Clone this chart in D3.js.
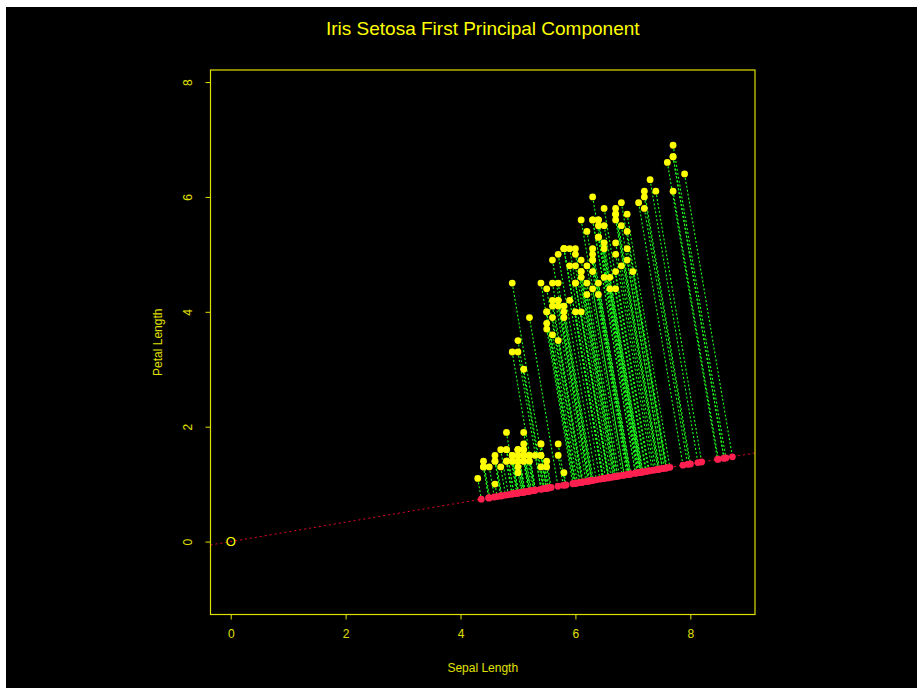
<!DOCTYPE html>
<html>
<head>
<meta charset="utf-8">
<script src="https://cdn.jsdelivr.net/npm/d3@7"></script>
<style>
    body { margin: 0; background: #ffffff; }
    text { font-family: "Liberation Sans", Arial, sans-serif; }
</style>
</head>
<body>
<script>
// iris: sepal length / petal length, all 150 flowers
var sepalLength = [
    5.1, 4.9, 4.7, 4.6, 5.0, 5.4, 4.6, 5.0, 4.4, 4.9, 5.4, 4.8, 4.8, 4.3, 5.8, 5.7, 5.4, 5.1, 5.7, 5.1,
    5.4, 5.1, 4.6, 5.1, 4.8, 5.0, 5.0, 5.2, 5.2, 4.7, 4.8, 5.4, 5.2, 5.5, 4.9, 5.0, 5.5, 4.9, 4.4, 5.1,
    5.0, 4.5, 4.4, 5.0, 5.1, 4.8, 5.1, 4.6, 5.3, 5.0,
    7.0, 6.4, 6.9, 5.5, 6.5, 5.7, 6.3, 4.9, 6.6, 5.2, 5.0, 5.9, 6.0, 6.1, 5.6, 6.7, 5.6, 5.8, 6.2, 5.6,
    5.9, 6.1, 6.3, 6.1, 6.4, 6.6, 6.8, 6.7, 6.0, 5.7, 5.5, 5.5, 5.8, 6.0, 5.4, 6.0, 6.7, 6.3, 5.6, 5.5,
    5.5, 6.1, 5.8, 5.0, 5.6, 5.7, 5.7, 6.2, 5.1, 5.7,
    6.3, 5.8, 7.1, 6.3, 6.5, 7.6, 4.9, 7.3, 6.7, 7.2, 6.5, 6.4, 6.8, 5.7, 5.8, 6.4, 6.5, 7.7, 7.7, 6.0,
    6.9, 5.6, 7.7, 6.3, 6.7, 7.2, 6.2, 6.1, 6.4, 7.2, 7.4, 7.9, 6.4, 6.3, 6.1, 7.7, 6.3, 6.4, 6.0, 6.9,
    6.7, 6.9, 5.8, 6.8, 6.7, 6.7, 6.3, 6.5, 6.2, 5.9
];
var petalLength = [
    1.4, 1.4, 1.3, 1.5, 1.4, 1.7, 1.4, 1.5, 1.4, 1.5, 1.5, 1.6, 1.4, 1.1, 1.2, 1.5, 1.3, 1.4, 1.7, 1.5,
    1.7, 1.5, 1.0, 1.7, 1.9, 1.6, 1.6, 1.5, 1.4, 1.6, 1.6, 1.5, 1.5, 1.4, 1.5, 1.2, 1.3, 1.4, 1.3, 1.5,
    1.3, 1.3, 1.3, 1.6, 1.9, 1.4, 1.6, 1.4, 1.5, 1.4,
    4.7, 4.5, 4.9, 4.0, 4.6, 4.5, 4.7, 3.3, 4.6, 3.9, 3.5, 4.2, 4.0, 4.7, 3.6, 4.4, 4.5, 4.1, 4.5, 3.9,
    4.8, 4.0, 4.9, 4.7, 4.3, 4.4, 4.8, 5.0, 4.5, 3.5, 3.8, 3.7, 3.9, 5.1, 4.5, 4.5, 4.7, 4.4, 4.1, 4.0,
    4.4, 4.6, 4.0, 3.3, 4.2, 4.2, 4.2, 4.3, 3.0, 4.1,
    6.0, 5.1, 5.9, 5.6, 5.8, 6.6, 4.5, 6.3, 5.8, 6.1, 5.1, 5.3, 5.5, 5.0, 5.1, 5.3, 5.5, 6.7, 6.9, 5.0,
    5.7, 4.9, 6.7, 4.9, 5.7, 6.0, 4.8, 4.9, 5.6, 5.8, 6.1, 6.4, 5.6, 5.1, 5.6, 6.1, 5.6, 5.5, 4.8, 5.4,
    5.6, 5.1, 5.1, 5.9, 5.7, 5.2, 5.0, 5.2, 5.4, 5.1
];
// slope of the setosa first principal component (line drawn through the origin)
var pcSlope = 0.169;
var xTicks = [0, 2, 4, 6, 8];
var yTicks = [0, 2, 4, 6, 8];

(function () {
    'use strict';

    var width = 917, height = 688;
    var box = { left: 210.5, right: 755, top: 70, bottom: 614.5 };
    var yellow = '#ffff00', axisYellow = '#e0e000';

    var svg = d3.select('body').append('svg')
        .attr('width', width)
        .attr('height', height);

    svg.append('rect')
        .attr('x', 6).attr('y', 7)
        .attr('width', width - 6).attr('height', height - 7)
        .attr('fill', '#000000');

    var x = d3.scaleLinear().domain([-0.352, 9.126]).range([box.left, box.right]);
    var y = d3.scaleLinear().domain([-1.27, 8.21]).range([box.bottom, box.top]);

    var points = sepalLength.map(function (sl, i) {
        var pl = petalLength[i];
        var t = (sl + pcSlope * pl) / (1 + pcSlope * pcSlope);
        return { x: sl, y: pl, px: t, py: pcSlope * t };
    });

    var plot = svg.append('g');
    plot.append('clipPath').attr('id', 'clip')
        .append('rect')
        .attr('x', box.left).attr('y', box.top)
        .attr('width', box.right - box.left).attr('height', box.bottom - box.top);

    var inner = plot.append('g').attr('clip-path', 'url(#clip)');

    // projection segments
    inner.selectAll('line.proj')
        .data(points)
        .enter().append('line')
        .attr('class', 'proj')
        .attr('x1', function (d) { return x(d.x); })
        .attr('y1', function (d) { return y(d.y); })
        .attr('x2', function (d) { return x(d.px); })
        .attr('y2', function (d) { return y(d.py); })
        .attr('stroke', '#20ff20')
        .attr('stroke-width', 1.1)
        .attr('stroke-dasharray', '2,2');

    // principal component line
    var xd = x.domain();
    inner.append('line')
        .attr('x1', x(xd[0])).attr('y1', y(pcSlope * xd[0]))
        .attr('x2', x(xd[1])).attr('y2', y(pcSlope * xd[1]))
        .attr('stroke', '#e0002a')
        .attr('stroke-width', 1)
        .attr('stroke-dasharray', '2,3');

    inner.selectAll('circle.obs')
        .data(points)
        .enter().append('circle')
        .attr('class', 'obs')
        .attr('cx', function (d) { return x(d.x); })
        .attr('cy', function (d) { return y(d.y); })
        .attr('r', 3.4)
        .attr('fill', yellow);

    inner.selectAll('circle.prj')
        .data(points)
        .enter().append('circle')
        .attr('class', 'prj')
        .attr('cx', function (d) { return x(d.px); })
        .attr('cy', function (d) { return y(d.py); })
        .attr('r', 3.4)
        .attr('fill', '#ff2050');

    // origin marker
    inner.append('text')
        .attr('x', x(0)).attr('y', y(0))
        .attr('dy', '0.36em')
        .attr('text-anchor', 'middle')
        .attr('fill', yellow)
        .attr('font-size', 13)
        .text('O');

    // axes
    var xAxis = svg.append('g')
        .attr('transform', 'translate(0,' + box.bottom + ')')
        .call(d3.axisBottom(x).tickValues(xTicks).tickSize(5).tickPadding(10).tickFormat(d3.format('d')));
    var yAxis = svg.append('g')
        .attr('transform', 'translate(' + box.left + ',0)')
        .call(d3.axisLeft(y).tickValues(yTicks).tickSize(5).tickFormat(d3.format('d')));

    [xAxis, yAxis].forEach(function (ax) {
        ax.select('.domain').remove();
        ax.selectAll('.tick line').attr('stroke', axisYellow);
        ax.selectAll('.tick text')
            .attr('fill', axisYellow)
            .attr('font-size', 12)
            .attr('font-family', '"Liberation Sans", Arial, sans-serif');
    });
    yAxis.selectAll('.tick text')
        .attr('x', null).attr('dy', null)
        .attr('text-anchor', 'middle')
        .attr('transform', 'translate(-19,0) rotate(-90)');

    svg.append('rect')
        .attr('x', box.left).attr('y', box.top)
        .attr('width', box.right - box.left).attr('height', box.bottom - box.top)
        .attr('fill', 'none')
        .attr('stroke', axisYellow)
        .attr('stroke-width', 1.2);

    // titles
    var cx = (box.left + box.right) / 2;
    svg.append('text')
        .attr('x', cx).attr('y', 35)
        .attr('text-anchor', 'middle')
        .attr('fill', yellow)
        .attr('font-size', 19)
        .text('Iris Setosa First Principal Component');

    svg.append('text')
        .attr('x', cx).attr('y', 672)
        .attr('text-anchor', 'middle')
        .attr('fill', axisYellow)
        .attr('font-size', 12)
        .text('Sepal Length');

    svg.append('text')
        .attr('transform', 'translate(162,' + ((box.top + box.bottom) / 2) + ') rotate(-90)')
        .attr('text-anchor', 'middle')
        .attr('fill', axisYellow)
        .attr('font-size', 12)
        .text('Petal Length');
})();
</script>
</body>
</html>
